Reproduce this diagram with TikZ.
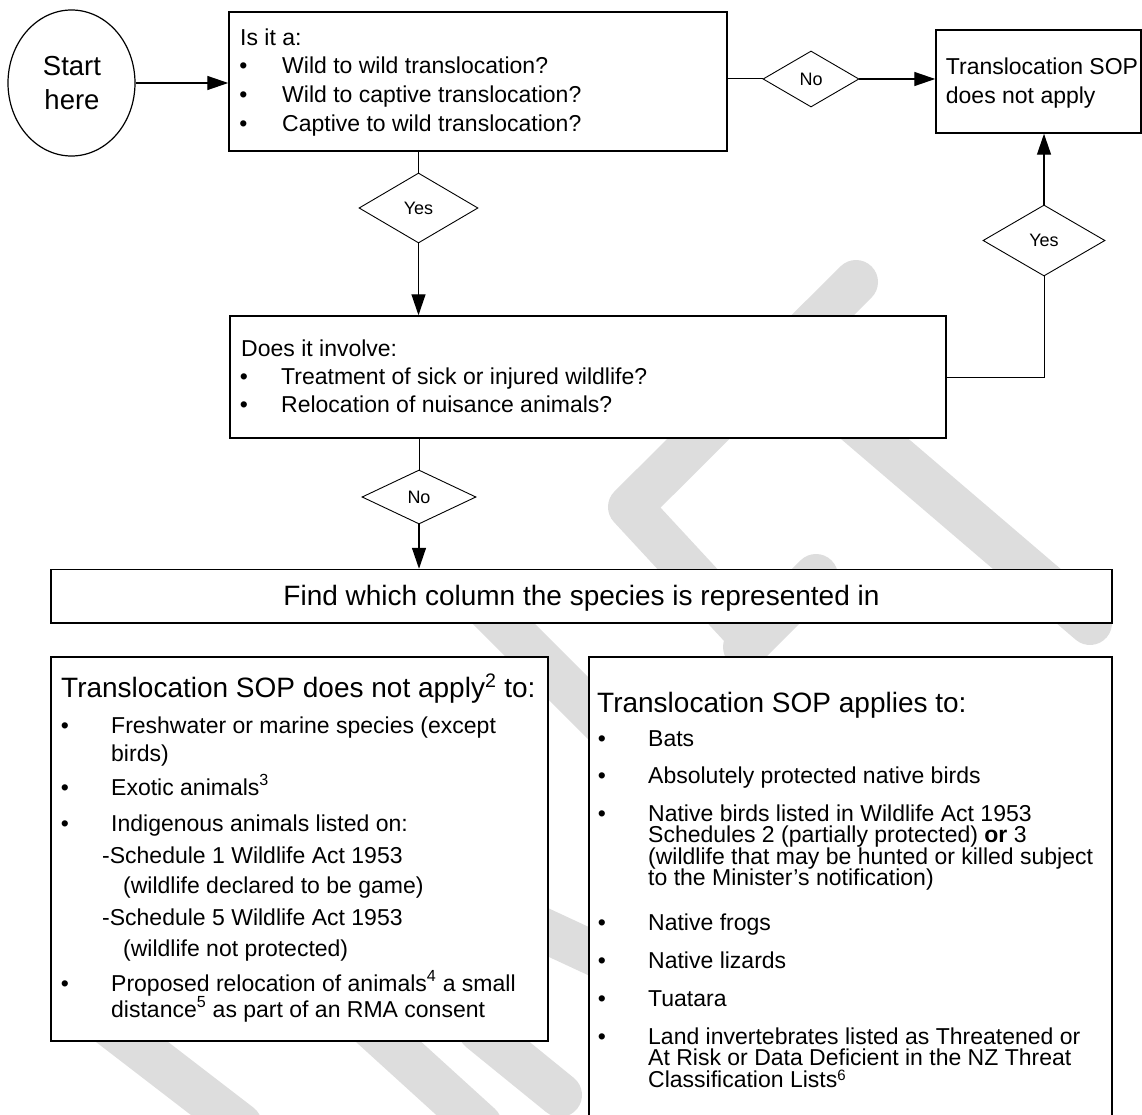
\documentclass[tikz,border=0pt]{standalone}
\usepackage{fontspec}
\setmainfont{Liberation Sans}
\usetikzlibrary{shapes.geometric,arrows.meta}
\definecolor{wmgray}{RGB}{221,221,221}

\begin{document}
\begin{tikzpicture}[x=1pt,y=-1pt,
  box/.style={draw, rectangle, line width=1.5pt, fill=white, inner sep=0pt},
  dia/.style={draw, diamond, line width=0.9pt, fill=white, inner sep=0pt,
              font=\fontsize{18}{20}\selectfont},
  txt/.style={anchor=base west, inner sep=0pt, font=\fontsize{23}{27}\selectfont},
  bigtxt/.style={anchor=base west, inner sep=0pt, font=\fontsize{28}{32}\selectfont},
  bul/.style={anchor=base, inner sep=0pt, font=\fontsize{23}{27}\selectfont},
  arr/.style={-{Triangle[length=21pt,width=14pt]}, line width=1.4pt},
  link/.style={line width=1pt},
  wm/.style={wmgray, line width=44pt, line cap=round, line join=round}]

\useasboundingbox (0,0) rectangle (1142,1115);

% faint background watermark strokes
\begin{scope}
  \clip (0,0) rectangle (1142,1115);
  \draw[wm] (856,282) -- (630,507) -- (742,628);
  \draw[wm] (800,375) -- (1090,623);
  \draw[wm] (816,576) -- (745,647);
  \draw[wm] (475,595) -- (700,820);
  \draw[wm] (500,910) -- (640,975);
  \draw[wm] (110,1025) -- (240,1125);
  \draw[wm] (370,1025) -- (480,1125);
  \draw[wm] (480,1030) -- (560,1095);
\end{scope}

% start
\node[draw, ellipse, line width=1.2pt, fill=white, minimum width=127pt,
      minimum height=146pt, inner sep=0pt] (start) at (71.5,83) {};
\node[anchor=base, inner sep=0pt, font=\fontsize{27.5}{33}\selectfont] (startA) at (72,76) {Start};
\node[anchor=base, inner sep=0pt, font=\fontsize{27.5}{33}\selectfont] (startB) at (72,110) {here};

% first question
\node[box, minimum width=498pt, minimum height=139pt] (q1) at (478,81.5) {};
\node[txt] (q1a) at (240,46) {Is it a:};
\node[bul] (q1b1) at (243.5,74) {•};
\node[txt] (q1b) at (282,74) {Wild to wild translocation?};
\node[bul] (q1c1) at (243.5,103) {•};
\node[txt] (q1c) at (282,103) {Wild to captive translocation?};
\node[bul] (q1d1) at (243.5,132) {•};
\node[txt] (q1d) at (282,132) {Captive to wild translocation?};

% outcome box
\node[box, minimum width=205pt, minimum height=103pt] (q3) at (1038.5,81.5) {};
\node[txt] (q3a) at (945.7,75) {Translocation SOP};
\node[txt] (q3b) at (945.7,104) {does not apply};

% decision diamonds
\node[dia, minimum width=96pt, minimum height=56pt] (no1) at (811,79) {No};
\node[dia, minimum width=122pt, minimum height=71pt] (yes2) at (1044,240.5) {Yes};
\node[dia, minimum width=119pt, minimum height=70pt] (yes1) at (418.5,208) {Yes};
\node[dia, minimum width=114pt, minimum height=54pt] (no2) at (419,497) {No};

% second question
\node[box, minimum width=716pt, minimum height=122pt] (q2) at (588,377) {};
\node[txt] (q2a) at (241,356) {Does it involve:};
\node[bul] (q2b1) at (244,384) {•};
\node[txt] (q2b) at (281,384) {Treatment of sick or injured wildlife?};
\node[bul] (q2c1) at (244,412) {•};
\node[txt] (q2c) at (281,412) {Relocation of nuisance animals?};

% column finder
\node[box, minimum width=1061pt, minimum height=53.5pt] (find) at (581.5,596.25) {};
\node[anchor=base, inner sep=0pt, font=\fontsize{28}{32}\selectfont] (findt) at (581.5,605)
  {Find which column the species is represented in};

% left column
\node[box, minimum width=497pt, minimum height=384pt] (left) at (299.5,849) {};
\node[bigtxt] (lt) at (61,697) {Translocation SOP does not apply\textsuperscript{2} to:};
\node[bul] (l1b) at (65,733) {•};
\node[txt] (l1) at (111,733) {Freshwater or marine species (except};
\node[txt] (l1x) at (111,761) {birds)};
\node[bul] (l2b) at (65,795) {•};
\node[txt] (l2) at (111,795) {Exotic animals\textsuperscript{3}};
\node[bul] (l3b) at (65,831) {•};
\node[txt] (l3) at (111,831) {Indigenous animals listed on:};
\node[txt] (l3x) at (102,863) {-Schedule 1 Wildlife Act 1953};
\node[txt] (l3y) at (123,893) {(wildlife declared to be game)};
\node[txt] (l3z) at (102,925) {-Schedule 5 Wildlife Act 1953};
\node[txt] (l3w) at (123,956) {(wildlife not protected)};
\node[bul] (l4b) at (65,991) {•};
\node[txt] (l4) at (111,991) {Proposed relocation of animals\textsuperscript{4} a small};
\node[txt] (l4x) at (111,1017) {distance\textsuperscript{5} as part of an RMA consent};

% right column
\node[box, minimum width=523pt, minimum height=468pt] (right) at (850.5,891) {};
\node[bigtxt] (rt) at (597,712) {Translocation SOP applies to:};
\node[bul] (r1b) at (602,746) {•};
\node[txt] (r1) at (648,746) {Bats};
\node[bul] (r2b) at (602,783) {•};
\node[txt] (r2) at (648,783) {Absolutely protected native birds};
\node[bul] (r3b) at (602,821) {•};
\node[txt] (r3) at (648,821) {Native birds listed in Wildlife Act 1953};
\node[txt] (r3x) at (648,842.5) {Schedules 2 (partially protected) \textbf{or} 3};
\node[txt] (r3y) at (648,864) {(wildlife that may be hunted or killed subject};
\node[txt] (r3z) at (648,885.5) {to the Minister’s notification)};
\node[bul] (r4b) at (602,930) {•};
\node[txt] (r4) at (648,930) {Native frogs};
\node[bul] (r5b) at (602,968) {•};
\node[txt] (r5) at (648,968) {Native lizards};
\node[bul] (r6b) at (602,1006) {•};
\node[txt] (r6) at (648,1006) {Tuatara};
\node[bul] (r7b) at (602,1044) {•};
\node[txt] (r7) at (648,1044) {Land invertebrates listed as Threatened or};
\node[txt] (r7x) at (648,1065.5) {At Risk or Data Deficient in the NZ Threat};
\node[txt] (r7y) at (648,1087) {Classification Lists\raisebox{0.3em}{\fontsize{15}{15}\selectfont 6}};

% connectors
\draw[arr] (start.east) -- (start.east -| q1.west);
\draw[link] (q1.east |- no1.west) -- (no1.west);
\draw[arr] (no1.east) -- (no1.east -| q3.west);
\draw[link] (yes1.north |- q1.south) -- (yes1.north);
\draw[arr] (yes1.south) -- (yes1.south |- q2.north);
\draw[link] (q2.east) -- (q2.east -| yes2.south) -- (yes2.south);
\draw[arr] (yes2.north) -- (yes2.north |- q3.south);
\draw[link] (no2.north |- q2.south) -- (no2.north);
\draw[arr] (no2.south) -- (no2.south |- find.north);
\end{tikzpicture}
\end{document}
